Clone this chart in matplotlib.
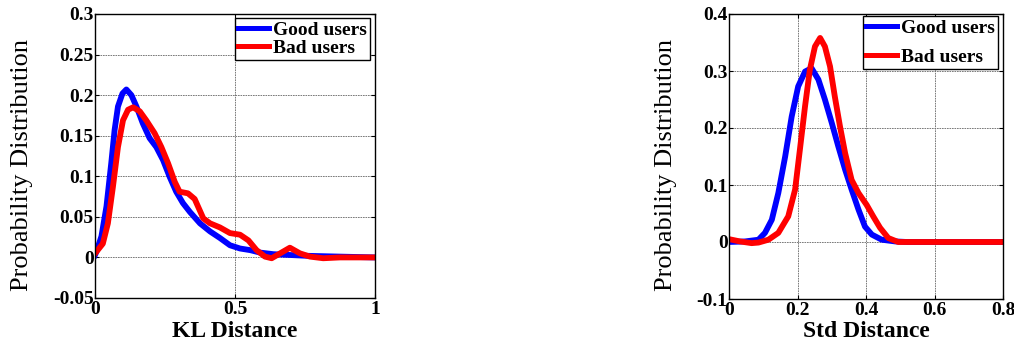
import numpy as np
import matplotlib
matplotlib.use("Agg")
import matplotlib.pyplot as plt

plt.rcParams['axes.unicode_minus'] = False

# KL distance densities
kl_good_x = [0.0, 0.005, 0.023, 0.041, 0.058, 0.070, 0.082, 0.098, 0.112, 0.130, 0.148, 0.171,
             0.195, 0.219, 0.243, 0.267, 0.290, 0.314, 0.339, 0.375, 0.411, 0.446, 0.482, 0.518,
             0.554, 0.589, 0.637, 0.696, 0.756, 0.875, 1.0]
kl_good_y = [0.003, 0.007, 0.026, 0.063, 0.116, 0.157, 0.186, 0.202, 0.207, 0.200, 0.186, 0.165,
             0.147, 0.136, 0.120, 0.099, 0.081, 0.067, 0.056, 0.042, 0.032, 0.024, 0.015, 0.011,
             0.009, 0.006, 0.004, 0.003, 0.002, 0.001, 0.0]
kl_bad_x = [0.0, 0.005, 0.028, 0.046, 0.064, 0.082, 0.100, 0.118, 0.136, 0.160, 0.183, 0.213,
            0.237, 0.261, 0.285, 0.302, 0.332, 0.356, 0.387, 0.411, 0.446, 0.482, 0.518, 0.548,
            0.577, 0.607, 0.631, 0.661, 0.696, 0.732, 0.768, 0.815, 0.875, 1.0]
kl_bad_y = [0.005, 0.007, 0.017, 0.042, 0.087, 0.136, 0.169, 0.182, 0.185, 0.180, 0.169, 0.153,
            0.136, 0.116, 0.093, 0.081, 0.079, 0.072, 0.048, 0.042, 0.037, 0.030, 0.028, 0.021,
            0.009, 0.001, -0.001, 0.005, 0.012, 0.005, 0.001, -0.001, 0.0, 0.0]

# Std distance densities
std_good_x = [0.0, 0.047, 0.086, 0.105, 0.125, 0.144, 0.164, 0.183, 0.202, 0.222, 0.241, 0.261,
              0.280, 0.300, 0.319, 0.339, 0.358, 0.378, 0.397, 0.417, 0.446, 0.485, 0.52, 0.8]
std_good_y = [0.0, 0.001, 0.004, 0.016, 0.039, 0.086, 0.150, 0.220, 0.273, 0.299, 0.305, 0.285,
              0.250, 0.209, 0.168, 0.127, 0.092, 0.057, 0.027, 0.013, 0.004, 0.001, 0.0, 0.0]
std_bad_x = [0.0, 0.032, 0.066, 0.086, 0.115, 0.144, 0.173, 0.193, 0.207, 0.222, 0.236, 0.251,
             0.266, 0.280, 0.295, 0.309, 0.324, 0.339, 0.358, 0.378, 0.402, 0.421, 0.441, 0.465,
             0.494, 0.52, 0.8]
std_bad_y = [0.005, 0.001, -0.002, -0.001, 0.004, 0.016, 0.045, 0.092, 0.162, 0.238, 0.302, 0.343,
             0.358, 0.343, 0.308, 0.255, 0.203, 0.156, 0.109, 0.086, 0.065, 0.045, 0.025, 0.007,
             0.0, 0.0, 0.0]

kl_xticks = [0, 0.5, 1]
kl_xlabels = ['0', '0.5', '1']
kl_yticks = [-0.05, 0, 0.05, 0.1, 0.15, 0.2, 0.25, 0.3]
kl_ylabels = ['-0.05', '0', '0.05', '0.1', '0.15', '0.2', '0.25', '0.3']

std_xticks = [0, 0.2, 0.4, 0.6, 0.8]
std_xlabels = ['0', '0.2', '0.4', '0.6', '0.8']
std_yticks = [-0.1, 0, 0.1, 0.2, 0.3, 0.4]
std_ylabels = ['-0.1', '0', '0.1', '0.2', '0.3', '0.4']

series_names = ['Good users', 'Bad users']

serif = 'Liberation Serif'
bold_font = {'family': serif, 'weight': 'bold'}


def style_axes(ax, xticks, xlabels, yticks, ylabels, xlabel, ylabel_x, xlabel_y,
               legend_spacing, legend_top):
    ax.set_xlim(xticks[0], xticks[-1])
    ax.set_ylim(yticks[0], yticks[-1])
    ax.set_xticks(xticks)
    ax.set_xticklabels(xlabels, fontdict=bold_font, fontsize=14)
    ax.set_yticks(yticks)
    ax.set_yticklabels(ylabels, fontdict=bold_font, fontsize=14)
    ax.tick_params(direction='in', length=3, width=0.8, top=True, right=True)
    ax.tick_params(axis='x', pad=2)
    ax.tick_params(axis='y', pad=1)
    ax.grid(True, color='0.4', linewidth=0.6, linestyle=(0, (2, 1)))
    for sp in ax.spines.values():
        sp.set_linewidth(1.0)

    # x label sits on the bottom edge of the figure
    ax.set_xlabel(xlabel, fontdict=bold_font, fontsize=17)
    ax.xaxis.label.set_va('baseline')
    ax.xaxis.set_label_coords(0.5, xlabel_y)

    ax.set_ylabel('Probability Distribution', family=serif, fontsize=19)
    ax.yaxis.set_label_coords(ylabel_x, 0.47)

    leg = ax.legend(series_names, loc='upper right', bbox_to_anchor=(0.982, legend_top),
                    borderaxespad=0, prop={'family': serif, 'weight': 'bold', 'size': 14},
                    fancybox=False, framealpha=1, edgecolor='black', handlelength=1.6,
                    handletextpad=0.2, borderpad=0.15, labelspacing=legend_spacing)
    leg.get_frame().set_linewidth(1.0)
    for line in leg.get_lines():
        line.set_linewidth(3.6)


fig = plt.figure(figsize=(10.14, 3.4), dpi=100)
ax1 = fig.add_axes([95 / 1014, 42 / 340, 280 / 1014, 284 / 340])
ax2 = fig.add_axes([729 / 1014, 41 / 340, 274 / 1014, 285 / 340])

lw = 4.2
ax1.plot(kl_good_x, kl_good_y, color='#0000ff', linewidth=lw, solid_joinstyle='round')
ax1.plot(kl_bad_x, kl_bad_y, color='#ff0000', linewidth=lw, solid_joinstyle='round')
style_axes(ax1, kl_xticks, kl_xlabels, kl_yticks, kl_ylabels, 'KL Distance', -0.221, -0.138,
           0.05, 0.986)

ax2.plot(std_good_x, std_good_y, color='#0000ff', linewidth=lw, solid_joinstyle='round')
ax2.plot(std_bad_x, std_bad_y, color='#ff0000', linewidth=lw, solid_joinstyle='round')
style_axes(ax2, std_xticks, std_xlabels, std_yticks, std_ylabels, 'Std Distance', -0.19, -0.135,
           0.6, 0.993)

fig.savefig('out.png', dpi=100)
